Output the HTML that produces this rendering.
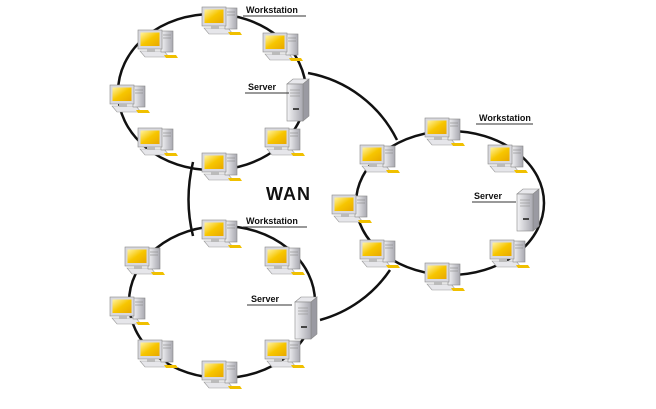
<!DOCTYPE html>
<html><head><style>
html,body{margin:0;padding:0;background:#fff;}
svg{display:block;}
text{font-family:"Liberation Sans",sans-serif;font-weight:bold;fill:#111;}
</style></head><body>
<svg width="656" height="409" viewBox="0 0 656 409" xmlns="http://www.w3.org/2000/svg">
<defs>
<linearGradient id="scr" x1="0" y1="0" x2="1" y2="1">
<stop offset="0" stop-color="#fff3a0"/><stop offset="0.5" stop-color="#f7c600"/><stop offset="1" stop-color="#e8a800"/></linearGradient>
<linearGradient id="gr" x1="0" y1="0" x2="1" y2="0">
<stop offset="0" stop-color="#f4f4f6"/><stop offset="1" stop-color="#a8a8b0"/></linearGradient>
<g id="ws">
<polygon points="-18,6 6,6 11,12 -13,12" fill="#e6e6ea" stroke="#999" stroke-width="0.6"/>
<polygon points="6,10 18,10 20,13 8,13" fill="#f0c000"/>
<rect x="3" y="-14" width="12" height="21" fill="url(#gr)" stroke="#888" stroke-width="0.6"/>
<line x1="5" y1="-10" x2="13" y2="-10" stroke="#888" stroke-width="0.6"/>
<line x1="5" y1="-7" x2="13" y2="-7" stroke="#888" stroke-width="0.6"/>
<rect x="-20" y="-15" width="24" height="19" fill="#d8d8de" stroke="#888" stroke-width="0.6"/>
<rect x="-17.5" y="-12.5" width="19" height="13.5" fill="url(#scr)"/>
<rect x="-11" y="4" width="8" height="3" fill="#bbb"/>
</g>
<g id="srv">
<polygon points="-10,-16 -4,-21 12,-21 6,-16" fill="#e8e8ec" stroke="#888" stroke-width="0.6"/>
<polygon points="6,-16 12,-21 12,16 6,21" fill="#9a9aa2" stroke="#888" stroke-width="0.6"/>
<rect x="-10" y="-16" width="16" height="37" fill="url(#gr)" stroke="#888" stroke-width="0.6"/>
<line x1="-7" y1="-10" x2="3" y2="-10" stroke="#999" stroke-width="0.7"/>
<line x1="-7" y1="-7" x2="3" y2="-7" stroke="#999" stroke-width="0.7"/>
<line x1="-7" y1="-4" x2="3" y2="-4" stroke="#999" stroke-width="0.7"/>
<rect x="-4" y="8" width="6" height="2" fill="#444"/>
</g>
</defs>
<g fill="none" stroke="#111" stroke-width="2.5">
<ellipse cx="212" cy="92" rx="94" ry="78"/>
<ellipse cx="222" cy="302" rx="93" ry="76"/>
<ellipse cx="450" cy="203" rx="94" ry="72"/>
<path d="M308,73 A124,124 0 0 1 397,140"/>
<path d="M390,270 A124,124 0 0 1 320,320"/>
<path d="M193,162 Q184,200 193,236"/>
</g>
<g>
<use href="#ws" x="158" y="45"/><use href="#ws" x="222" y="22"/><use href="#ws" x="283" y="48"/>
<use href="#ws" x="130" y="100"/><use href="#ws" x="158" y="143"/><use href="#ws" x="222" y="168"/><use href="#ws" x="285" y="143"/>
<use href="#srv" x="297" y="100"/>
<use href="#ws" x="222" y="235"/><use href="#ws" x="285" y="262"/><use href="#ws" x="145" y="262"/>
<use href="#ws" x="130" y="312"/><use href="#ws" x="158" y="355"/><use href="#ws" x="222" y="376"/><use href="#ws" x="285" y="355"/>
<use href="#srv" x="305" y="318"/>
<use href="#ws" x="380" y="160"/><use href="#ws" x="445" y="133"/><use href="#ws" x="508" y="160"/>
<use href="#ws" x="352" y="210"/><use href="#ws" x="380" y="255"/><use href="#ws" x="445" y="278"/><use href="#ws" x="510" y="255"/>
<use href="#srv" x="527" y="210"/>
</g>
<g stroke="#333" stroke-width="1">
<line x1="243" y1="16" x2="306" y2="16"/>
<line x1="245" y1="93" x2="289" y2="93"/>
<line x1="476" y1="124" x2="533" y2="124"/>
<line x1="472" y1="202" x2="516" y2="202"/>
<line x1="243" y1="227" x2="307" y2="227"/>
<line x1="247" y1="305" x2="292" y2="305"/>
</g>
<g font-size="9">
<text x="246" y="13">Workstation</text>
<text x="248" y="90">Server</text>
<text x="479" y="121">Workstation</text>
<text x="474" y="199">Server</text>
<text x="246" y="224">Workstation</text>
<text x="251" y="302">Server</text>
</g>
<text x="266" y="200" font-size="18" letter-spacing="1">WAN</text>
</svg>
</body></html>
